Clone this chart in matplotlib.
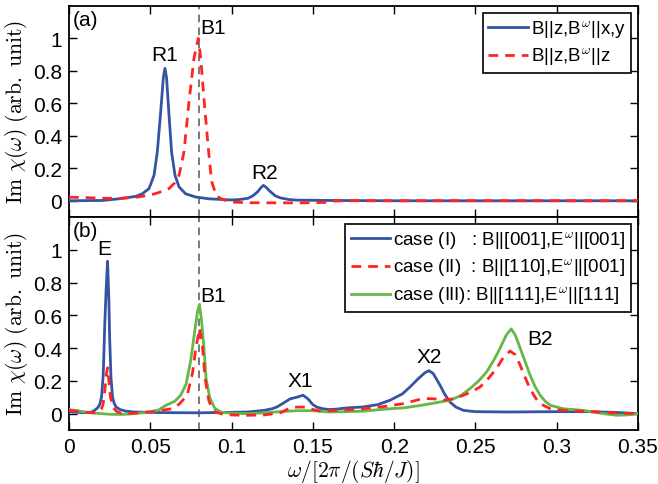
import matplotlib
matplotlib.use("Agg")
import matplotlib.pyplot as plt

plt.rcParams['font.family'] = ['Liberation Sans', 'DejaVu Sans']
plt.rcParams['mathtext.fontset'] = 'cm'

# ---------------- data ----------------
# panel (a)
a_blue_x = [0.0, 0.0205, 0.0307, 0.041, 0.0451, 0.0492, 0.0523, 0.0543, 0.0564, 0.058,
            0.059, 0.060, 0.0615, 0.0631, 0.0652, 0.0677, 0.0717, 0.0779, 0.0861, 0.09,
            0.1, 0.105, 0.11, 0.113, 0.116, 0.118, 0.1196, 0.121, 0.124, 0.127, 0.13,
            0.135, 0.14, 0.16, 0.2, 0.25, 0.3, 0.35]
a_blue_y = [0.0, 0.002, 0.012, 0.027, 0.043, 0.075, 0.157, 0.30, 0.55, 0.758,
            0.816, 0.758, 0.53, 0.30, 0.157, 0.085, 0.043, 0.023, 0.012, 0.01,
            0.005, 0.008, 0.015, 0.03, 0.055, 0.08, 0.095, 0.085, 0.055, 0.03, 0.018,
            0.008, 0.004, 0.002, 0.0, 0.0, 0.0, 0.0]

a_red_x = [0.0, 0.01, 0.02, 0.03, 0.04, 0.05, 0.055, 0.0615, 0.065, 0.0677, 0.0707,
           0.0738, 0.0769, 0.0795, 0.081, 0.083, 0.0857, 0.0877, 0.09, 0.0908, 0.094,
           0.097, 0.1, 0.11, 0.13, 0.15, 0.158, 0.162, 0.17, 0.2, 0.25, 0.3, 0.35]
a_red_y = [0.022, 0.02, 0.016, 0.014, 0.02, 0.035, 0.05, 0.075, 0.11, 0.157, 0.30,
           0.61, 0.88, 1.0, 0.88, 0.63, 0.32, 0.12, 0.05, 0.03, 0.01,
           0.0, -0.008, -0.012, -0.013, -0.012, -0.01, -0.002, 0.0, 0.0, 0.0, 0.0, 0.0]

# panel (b)
b_blue_x = [0.0, 0.005, 0.01, 0.014, 0.016, 0.018, 0.019, 0.02, 0.021, 0.0215, 0.022,
            0.0228, 0.0237, 0.0245, 0.025, 0.0258, 0.0268, 0.0277, 0.029, 0.0314, 0.035,
            0.04, 0.06, 0.08, 0.1, 0.11, 0.12, 0.125, 0.128, 0.132, 0.136, 0.14, 0.144,
            0.147, 0.15, 0.1524, 0.156, 0.16, 0.165, 0.171, 0.181, 0.19, 0.1975, 0.205,
            0.21, 0.215, 0.219, 0.2214, 0.224, 0.2282, 0.231, 0.2344, 0.238, 0.2426,
            0.25, 0.27, 0.3, 0.32, 0.335, 0.35]
b_blue_y = [0.012, 0.008, 0.006, 0.01, 0.022, 0.04, 0.06, 0.1, 0.23, 0.38, 0.55,
            0.75, 0.93, 0.7, 0.46, 0.22, 0.1, 0.065, 0.04, 0.025, 0.015,
            0.01, 0.006, 0.005, 0.008, 0.01, 0.02, 0.03, 0.041, 0.065, 0.09, 0.1, 0.112,
            0.09, 0.055, 0.04, 0.03, 0.025, 0.028, 0.035, 0.041, 0.055, 0.082, 0.12,
            0.165, 0.215, 0.25, 0.262, 0.245, 0.174, 0.12, 0.07, 0.04, 0.02,
            0.012, 0.01, 0.012, 0.012, 0.008, 0.0]

b_red_x = [0.0, 0.005, 0.01, 0.015, 0.018, 0.02, 0.021, 0.022, 0.023, 0.0237, 0.0245,
           0.0255, 0.027, 0.029, 0.032, 0.035, 0.04, 0.05, 0.0635, 0.068, 0.0727, 0.076,
           0.078, 0.0803, 0.082, 0.0837, 0.086, 0.088, 0.09, 0.095, 0.1, 0.11, 0.12,
           0.13, 0.135, 0.14, 0.146, 0.15, 0.155, 0.16, 0.17, 0.181, 0.195, 0.2057,
           0.215, 0.2197, 0.225, 0.2302, 0.236, 0.2426, 0.248, 0.253, 0.258, 0.263,
           0.267, 0.2713, 0.2745, 0.2775, 0.2806, 0.2836, 0.287, 0.2898, 0.296, 0.304,
           0.315, 0.3246, 0.335, 0.35]
b_red_y = [0.02, 0.015, 0.008, 0.005, 0.01, 0.03, 0.06, 0.14, 0.24, 0.28, 0.2,
           0.1, 0.04, 0.015, 0.002, 0.0, 0.003, 0.01, 0.03, 0.06, 0.112, 0.25,
           0.4, 0.52, 0.42, 0.215, 0.08, 0.03, 0.01, -0.005, -0.008, -0.01, -0.008,
           0.005, 0.03, 0.04, 0.04, 0.025, 0.015, 0.018, 0.022, 0.03, 0.045, 0.061,
           0.085, 0.092, 0.09, 0.082, 0.09, 0.112, 0.135, 0.164, 0.215, 0.276,
           0.34, 0.382, 0.36, 0.296, 0.22, 0.153, 0.095, 0.061, 0.03, 0.02,
           0.015, 0.01, 0.005, 0.0]

b_green_x = [0.0, 0.005, 0.01, 0.015, 0.02, 0.025, 0.03, 0.035, 0.04, 0.045, 0.05,
             0.055, 0.0595, 0.065, 0.0687, 0.072, 0.0748, 0.077, 0.079, 0.0802, 0.0815,
             0.083, 0.0843, 0.0865, 0.0898, 0.094, 0.1, 0.11, 0.12, 0.13, 0.14, 0.15,
             0.16, 0.17, 0.181, 0.195, 0.2057, 0.215, 0.2226, 0.2344, 0.241, 0.2467,
             0.252, 0.257, 0.2615, 0.2652, 0.269, 0.272, 0.2745, 0.2775, 0.2805, 0.2836,
             0.2867, 0.2898, 0.293, 0.296, 0.304, 0.31, 0.3164, 0.3225, 0.3287, 0.337,
             0.343, 0.35]
b_green_y = [0.025, 0.018, 0.01, 0.004, 0.0, -0.004, -0.005, -0.004, 0.0, 0.005, 0.012,
             0.022, 0.05, 0.075, 0.112, 0.18, 0.32, 0.48, 0.62, 0.667, 0.57,
             0.4, 0.215, 0.1, 0.03, 0.008, 0.002, 0.0, 0.005, 0.012, 0.018, 0.018,
             0.01, 0.012, 0.015, 0.028, 0.035, 0.048, 0.061, 0.082, 0.11, 0.153,
             0.2, 0.256, 0.33, 0.4, 0.48, 0.517, 0.48, 0.4, 0.32, 0.235,
             0.165, 0.112, 0.075, 0.051, 0.03, 0.025, 0.02, 0.01, 0.0, -0.01,
             -0.008, 0.0]

x_ticks = [0, 0.05, 0.1, 0.15, 0.2, 0.25, 0.3, 0.35]
x_ticklabels = ['0', '0.05', '0.1', '0.15', '0.2', '0.25', '0.3', '0.35']
y_ticks = [0, 0.2, 0.4, 0.6, 0.8, 1.0]
y_ticklabels = ['0', '0.2', '0.4', '0.6', '0.8', '1']
b1_position = 0.08

a_labels = [r'B||z,B$^{\omega}$||x,y', r'B||z,B$^{\omega}$||z']
b_labels = [r'case (I)   : B||[001],E$^{\omega}$||[001]',
            r'case (II)  : B||[110],E$^{\omega}$||[001]',
            r'case (III): B||[111],E$^{\omega}$||[111]']

BLUE = '#3553a3'
RED = '#ff2424'
GREEN = '#63b846'
FS = 15

fig = plt.figure(figsize=(6.58, 4.85), dpi=100)
axa = fig.add_axes([0.1049, 0.5505, 0.8647, 0.4351])
axb = fig.add_axes([0.1049, 0.1113, 0.8647, 0.4392])

for ax in (axa, axb):
    ax.set_xlim(0, 0.35)
    ax.set_ylim(-0.1, 1.2)
    ax.set_xticks(x_ticks)
    ax.set_yticks(y_ticks)
    ax.set_yticklabels(y_ticklabels)
    ax.tick_params(direction='in', length=6, width=1, top=True, right=True,
                   labelsize=FS, pad=5)
    for s in ax.spines.values():
        s.set_linewidth(1.3)
    ax.axvline(b1_position, color='#555555', lw=1.1, ls=(0, (5, 3.5)), zorder=1)
    ax.set_ylabel(r'$\mathrm{Im}\ \chi(\omega)\ \mathrm{(arb.\ unit)}$', fontsize=15.5,
                  labelpad=2)

axa.set_xticklabels([])
axb.set_xticklabels(x_ticklabels)
axb.set_xlabel(r'$\omega/[2\pi/(S\hbar/J)]$', fontsize=15.5, labelpad=1)

lw = 2.0
axa.plot(a_blue_x, a_blue_y, color=BLUE, lw=lw, label=a_labels[0], zorder=3)
axa.plot(a_red_x, a_red_y, color=RED, lw=lw, ls=(0, (3.5, 2.5)), label=a_labels[1], zorder=3)

axb.plot(b_blue_x, b_blue_y, color=BLUE, lw=lw, label=b_labels[0], zorder=3)
axb.plot(b_red_x, b_red_y, color=RED, lw=lw, ls=(0, (3.5, 2.5)), label=b_labels[1], zorder=4)
axb.plot(b_green_x, b_green_y, color=GREEN, lw=lw, label=b_labels[2], zorder=3)

leg_kw = dict(fontsize=13.5, frameon=True, fancybox=False, framealpha=1,
              edgecolor='black', handlelength=2.1, handletextpad=0.15,
              borderpad=0.3, labelspacing=0.35, borderaxespad=0.35)
la = axa.legend(loc='upper right', **leg_kw)
lb = axb.legend(loc='upper right', **leg_kw)
for l in (la, lb):
    l.get_frame().set_linewidth(1.2)

# annotations
axa.text(0.002, 1.118, '(a)', fontsize=FS, va='center', ha='left')
axa.text(0.0805, 1.07, 'B1', fontsize=FS, va='center', ha='left')
axa.text(0.059, 0.84, 'R1', fontsize=FS, va='bottom', ha='center')
axa.text(0.12, 0.115, 'R2', fontsize=FS, va='bottom', ha='center')

axb.text(0.002, 1.12, '(b)', fontsize=FS, va='center', ha='left')
axb.text(0.0215, 0.95, 'E', fontsize=FS, va='bottom', ha='center')
axb.text(0.0806, 0.72, 'B1', fontsize=FS, va='center', ha='left')
axb.text(0.142, 0.143, 'X1', fontsize=FS, va='bottom', ha='center')
axb.text(0.2214, 0.29, 'X2', fontsize=FS, va='bottom', ha='center')
axb.text(0.2817, 0.46, 'B2', fontsize=FS, va='center', ha='left')

fig.savefig('out.png', dpi=100)
